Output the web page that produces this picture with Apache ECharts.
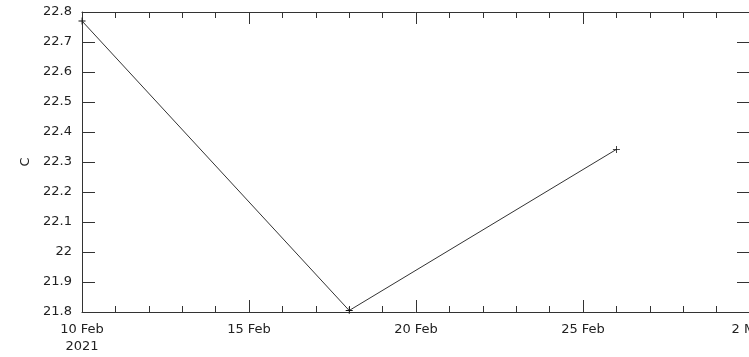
<!DOCTYPE html>
<html>
<head>
<meta charset="utf-8">
<script src="https://cdn.jsdelivr.net/npm/echarts@6/dist/echarts.min.js"></script>
<style>
  html, body { margin: 0; padding: 0; background: #fff; }
  #chart { width: 749px; height: 357px; }
</style>
</head>
<body>
<div id="chart"></div>
<script>
// Temperature readings (C) by date
const dates = ['2021-02-10', '2021-02-18', '2021-02-26'];
const temps = [22.77, 21.805, 22.342];

// Axis range and labelled ticks (days after the start date)
const startDate = '2021-02-10';
const endDays = 20;
const xTickLabels = { 0: '10 Feb\n2021', 5: '15 Feb', 10: '20 Feb', 15: '25 Feb', 20: '2 Mar' };
const yMin = 21.8, yMax = 22.8, yStep = 0.1;

const DAY = 86400000;
const toDays = d => (Date.parse(d + 'T00:00:00Z') - Date.parse(startDate + 'T00:00:00Z')) / DAY;
const points = dates.map((d, i) => [toDays(d), temps[i]]);

const axisColor = '#333';
const font = { fontFamily: 'DejaVu Sans', fontSize: 13, color: '#222' };
const plus = 'path://M4,0h1v9h-1zM0,4h9v1h-9z';

const xCommon = {
  type: 'value', min: 0, max: endDays, interval: 5,
  axisLine: { show: true, onZero: false, lineStyle: { color: axisColor, width: 1 } },
  axisTick: { show: true, inside: true, length: 12, lineStyle: { color: axisColor } },
  minorTick: { show: true, splitNumber: 5, length: 6, lineStyle: { color: axisColor } },
  splitLine: { show: false }
};
const yCommon = {
  type: 'value', min: yMin, max: yMax, interval: yStep,
  axisLine: { show: true, onZero: false, lineStyle: { color: axisColor, width: 1 } },
  axisTick: { show: true, inside: true, length: 13, lineStyle: { color: axisColor } },
  splitLine: { show: false }
};

const chart = echarts.init(document.getElementById('chart'), null, { renderer: 'canvas' });
chart.setOption({
  animation: false,
  backgroundColor: '#fff',
  grid: { left: 82, top: 12, width: 668, height: 300, containLabel: false, outerBoundsMode: 'none' },
  xAxis: [
    Object.assign({}, xCommon, {
      position: 'bottom',
      axisLabel: Object.assign({}, font, {
        margin: 9, lineHeight: 17, hideOverlap: false,
        showMinLabel: true, showMaxLabel: true,
        formatter: v => xTickLabels[v] || ''
      })
    }),
    Object.assign({}, xCommon, { position: 'top', axisLabel: { show: false } })
  ],
  yAxis: [
    Object.assign({}, yCommon, {
      position: 'left',
      name: 'C', nameLocation: 'middle', nameGap: 35, nameRotate: 90,
      nameTextStyle: Object.assign({}, font),
      axisLabel: Object.assign({}, font, {
        margin: 10,
        formatter: v => String(Number(v.toFixed(1)))
      })
    }),
    Object.assign({}, yCommon, { position: 'right', axisLabel: { show: false } })
  ],
  series: [{
    type: 'line',
    data: points,
    xAxisIndex: 0, yAxisIndex: 0,
    symbol: plus, symbolSize: 7, showSymbol: true,
    lineStyle: { color: '#333', width: 1 },
    itemStyle: { color: '#111' },
    clip: false
  }]
});
</script>
</body>
</html>
